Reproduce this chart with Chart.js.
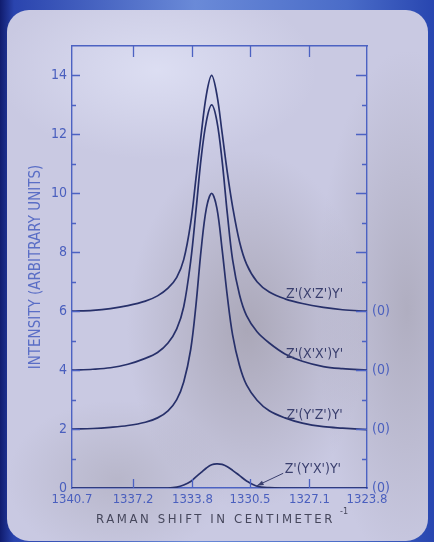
<!DOCTYPE html>
<html>
<head>
<meta charset="utf-8">
<script src="https://cdn.jsdelivr.net/npm/chart.js@4.4.0/dist/chart.umd.min.js"></script>
<style>
    html, body { margin: 0; padding: 0; }
    body {
        width: 434px; height: 542px; overflow: hidden; position: relative;
        background: linear-gradient(90deg, #101c6e 0px, #2a44ae 14px, #6a8ad8 45%, #4a6cc8 80%, #2846b0 100%);
    }
    .panel {
        position: absolute; left: 7px; top: 10px; width: 421px; height: 531px;
        border-radius: 22px;
        background:
            radial-gradient(ellipse 120px 180px at 240px 320px, rgba(160,156,170,0.75), rgba(160,156,170,0) 100%),
            radial-gradient(ellipse 90px 260px at 400px 300px, rgba(165,162,178,0.7), rgba(165,162,178,0) 100%),
            radial-gradient(ellipse 110px 80px at 110px 470px, rgba(172,170,186,0.6), rgba(172,170,186,0) 100%),
            radial-gradient(ellipse 160px 90px at 150px 60px, rgba(222,224,244,0.9), rgba(222,224,244,0) 100%),
            #c9c9e2;
    }
    canvas { position: absolute; left: 0; top: 0; }
</style>
</head>
<body>
<div class="panel"></div>
<canvas id="raman" width="434" height="542"></canvas>
<script>
// Raman line of diamond, four polarisation geometries
const shifts = [1340.7, 1339.5, 1338.5, 1337.5, 1336.5, 1335.8, 1335.2, 1334.7, 1334.3, 1333.9,
                1333.6, 1333.3, 1333.0, 1332.7, 1332.4, 1332.1, 1331.8, 1331.5, 1331.1, 1330.7,
                1330.1, 1329.4, 1328.5, 1327.5, 1326.3, 1325.2, 1323.8];

const xzValues = [6.0, 6.03, 6.09, 6.19, 6.34, 6.52, 6.78, 7.15, 7.75, 9.0,
                  10.5, 12.0, 13.35, 14.0, 13.35, 12.05, 10.7, 9.55, 8.35, 7.6,
                  7.0, 6.65, 6.42, 6.26, 6.13, 6.05, 6.0];
const xxValues = [4.0, 4.03, 4.08, 4.2, 4.4, 4.6, 4.92, 5.4, 6.15, 7.7,
                  9.4, 11.2, 12.45, 13.0, 12.45, 11.1, 9.3, 7.75, 6.55, 5.85,
                  5.3, 4.92, 4.55, 4.3, 4.12, 4.05, 4.0];
const yzValues = [2.0, 2.02, 2.06, 2.12, 2.23, 2.38, 2.62, 3.0, 3.6, 4.7,
                  6.2, 8.1, 9.5, 10.0, 9.5, 8.1, 6.5, 5.2, 4.15, 3.5,
                  2.98, 2.62, 2.38, 2.2, 2.08, 2.03, 1.98];
const yxValues = [0, 0, 0, 0, 0, 0, 0, 0.03, 0.1, 0.22,
                  0.38, 0.53, 0.68, 0.79, 0.82, 0.8, 0.72, 0.6, 0.42, 0.24,
                  0.06, 0.01, 0, 0, 0, 0, 0];

const curveNames = ["Z'(X'Z')Y'", "Z'(X'X')Y'", "Z'(Y'Z')Y'", "Z'(Y'X')Y'"];
const shiftTicks = [1340.7, 1337.2, 1333.8, 1330.5, 1327.1, 1323.8];
const intensityTicks = [0, 2, 4, 6, 8, 10, 12, 14];
const minorTicks = [1, 3, 5, 7, 9, 11, 13];
const zeroLevels = [0, 2, 4, 6];

const AXIS = '#4c62c2';
const INK = '#27306a';
const FONT = "'DejaVu Sans Condensed', 'DejaVu Sans', sans-serif";

function toPoints(values) {
    return shifts.map((s, i) => ({ x: s, y: values[i] }));
}

// inward tick marks on all four sides of the frame
const tickMarks = {
    id: 'tickMarks',
    afterDraw(chart) {
        const { ctx, chartArea: a, scales } = chart;
        ctx.save();
        ctx.strokeStyle = AXIS;
        ctx.lineWidth = 1.3;
        ctx.beginPath();
        intensityTicks.slice(1).forEach(v => {
            const y = Math.round(scales.y.getPixelForValue(v)) + 0.5;
            ctx.moveTo(a.left, y); ctx.lineTo(a.left + 8, y);
            ctx.moveTo(a.right, y); ctx.lineTo(a.right - 11, y);
        });
        minorTicks.forEach(v => {
            const y = Math.round(scales.y.getPixelForValue(v)) + 0.5;
            ctx.moveTo(a.left, y); ctx.lineTo(a.left + 4, y);
            ctx.moveTo(a.right, y); ctx.lineTo(a.right - 5, y);
        });
        shiftTicks.slice(1, -1).forEach(v => {
            const x = Math.round(scales.x.getPixelForValue(v)) + 0.5;
            ctx.moveTo(x, a.top); ctx.lineTo(x, a.top + 11);
            ctx.moveTo(x, a.bottom); ctx.lineTo(x, a.bottom - 9);
        });
        ctx.stroke();
        ctx.restore();
    }
};

// curve names, arrow and the spaced-out x title
const annotations = {
    id: 'annotations',
    afterDraw(chart) {
        const { ctx, chartArea: a, scales } = chart;
        const px = v => scales.x.getPixelForValue(v);
        const py = v => scales.y.getPixelForValue(v);
        ctx.save();
        ctx.fillStyle = '#3a3f6e';
        ctx.font = '14px ' + FONT;
        ctx.textAlign = 'center';
        ctx.textBaseline = 'middle';
        const labelX = px(1326.8);
        ctx.fillText(curveNames[0], labelX, py(6.56));
        ctx.fillText(curveNames[1], labelX, py(4.52));
        ctx.fillText(curveNames[2], labelX, py(2.48));
        ctx.fillText(curveNames[3], px(1326.9), py(0.62));

        // arrow to the weak Y'X' curve
        const x0 = px(1328.6), y0 = py(0.5);
        const x1 = px(1330.1), y1 = py(0.08);
        ctx.strokeStyle = '#3a3f6e';
        ctx.lineWidth = 1;
        ctx.beginPath();
        ctx.moveTo(x0, y0); ctx.lineTo(x1, y1);
        ctx.stroke();
        const ang = Math.atan2(y1 - y0, x1 - x0);
        ctx.beginPath();
        ctx.moveTo(x1, y1);
        ctx.lineTo(x1 - 7 * Math.cos(ang - 0.35), y1 - 7 * Math.sin(ang - 0.35));
        ctx.lineTo(x1 - 7 * Math.cos(ang + 0.35), y1 - 7 * Math.sin(ang + 0.35));
        ctx.closePath();
        ctx.fill();

        // x title
        ctx.fillStyle = '#46475c';
        ctx.font = '13px ' + FONT;
        ctx.letterSpacing = '2.6px';
        ctx.textAlign = 'center';
        ctx.fillText('RAMAN SHIFT IN CENTIMETER', (a.left + a.right) / 2 - 4, 520);
        ctx.letterSpacing = '0px';
        ctx.font = '9px ' + FONT;
        ctx.fillText('-1', 344, 512);
        ctx.restore();
    }
};

const curveStyle = {
    borderColor: INK,
    borderWidth: 1.7,
    pointRadius: 0,
    fill: false,
    tension: 0.35
};

new Chart(document.getElementById('raman'), {
    type: 'line',
    data: {
        datasets: [
            { label: curveNames[0], data: toPoints(xzValues), ...curveStyle },
            { label: curveNames[1], data: toPoints(xxValues), ...curveStyle },
            { label: curveNames[2], data: toPoints(yzValues), ...curveStyle },
            { label: curveNames[3], data: toPoints(yxValues), ...curveStyle }
        ]
    },
    options: {
        responsive: false,
        animation: false,
        layout: { padding: 0 },
        plugins: { legend: { display: false }, tooltip: { enabled: false } },
        scales: {
            x: {
                type: 'linear', position: 'bottom', reverse: true,
                min: 1323.8, max: 1340.7,
                afterBuildTicks: s => { s.ticks = shiftTicks.map(v => ({ value: v })); },
                afterFit: s => { s.height = 54; },
                grid: { drawOnChartArea: false, drawTicks: false },
                border: { color: AXIS, width: 1.4 },
                ticks: {
                    padding: 4, color: '#4a5fbe', maxRotation: 0, autoSkip: false,
                    font: { family: FONT, size: 13 },
                    callback: v => v.toFixed(1)
                }
            },
            xTop: {
                type: 'linear', position: 'top', reverse: true,
                min: 1323.8, max: 1340.7,
                afterFit: s => { s.height = 46; },
                grid: { drawOnChartArea: false, drawTicks: false },
                border: { color: AXIS, width: 1.4 },
                ticks: { display: false }
            },
            y: {
                type: 'linear', position: 'left', min: 0, max: 15,
                afterBuildTicks: s => { s.ticks = intensityTicks.map(v => ({ value: v })); },
                afterFit: s => { s.width = 72; },
                grid: { drawOnChartArea: false, drawTicks: false },
                border: { color: AXIS, width: 1.4 },
                ticks: { padding: 5, color: '#4a5fbe', font: { family: FONT, size: 14 } },
                title: {
                    display: true, text: 'INTENSITY (ARBITRARY UNITS)',
                    color: '#5a6ec6', font: { family: FONT, size: 15 },
                    padding: { top: 27, bottom: 0 }
                }
            },
            yRight: {
                type: 'linear', position: 'right', min: 0, max: 15,
                afterBuildTicks: s => { s.ticks = zeroLevels.map(v => ({ value: v })); },
                afterFit: s => { s.width = 67; },
                grid: { drawOnChartArea: false, drawTicks: false },
                border: { color: AXIS, width: 1.4 },
                ticks: {
                    padding: 5, color: '#4a5fbe', font: { family: FONT, size: 14 },
                    callback: () => '(0)'
                }
            }
        }
    },
    plugins: [tickMarks, annotations]
});
</script>
</body>
</html>
